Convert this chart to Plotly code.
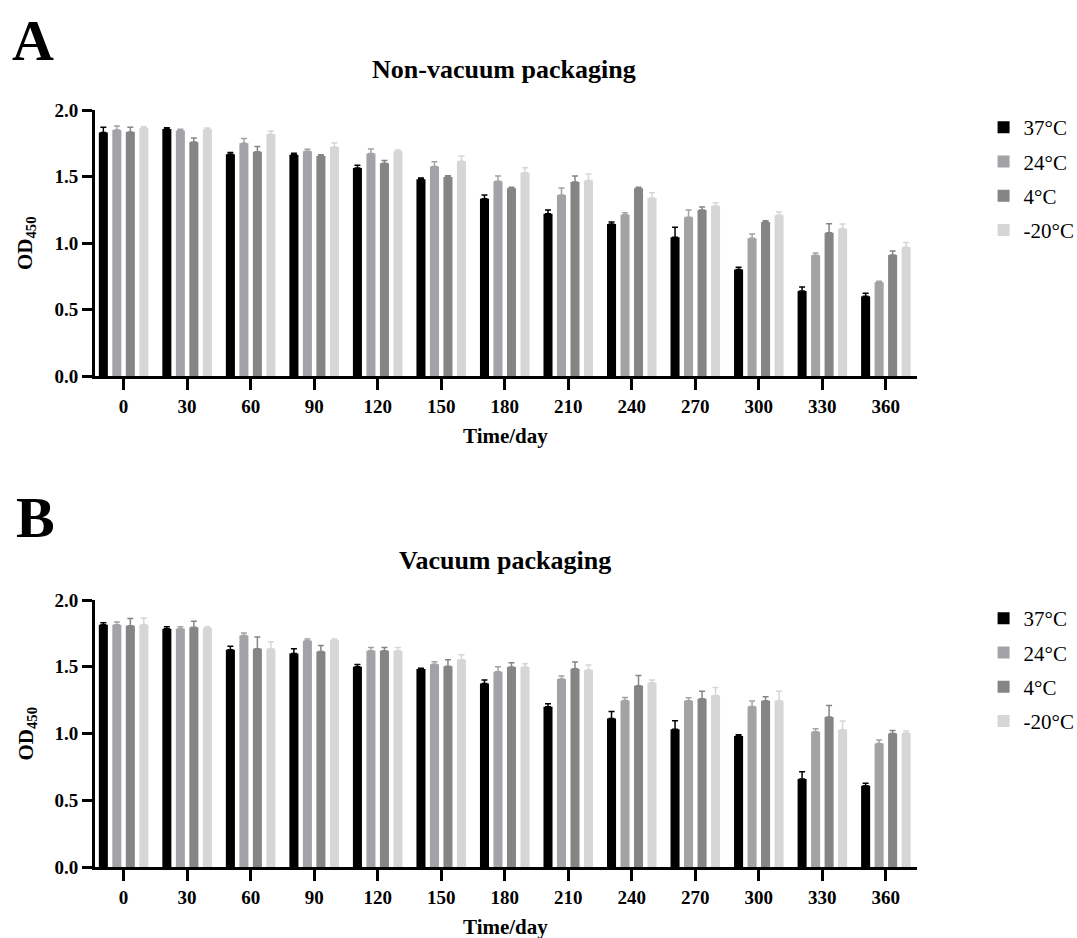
import plotly.graph_objects as go

days = ["0", "30", "60", "90", "120", "150", "180", "210", "240", "270", "300", "330", "360"]
series_names = ["37°C", "24°C", "4°C", "-20°C"]
colors = ["#000000", "#a3a3a7", "#858585", "#d6d6d6"]

# Panel A: Non-vacuum packaging (mean, error)
a_37 = [1.83, 1.857, 1.667, 1.664, 1.564, 1.479, 1.333, 1.22, 1.143, 1.043, 0.80, 0.639, 0.599]
a_37_err = [0.04, 0.01, 0.013, 0.01, 0.02, 0.01, 0.028, 0.028, 0.015, 0.075, 0.017, 0.03, 0.023]
a_24 = [1.85, 1.845, 1.75, 1.69, 1.672, 1.576, 1.464, 1.361, 1.213, 1.193, 1.035, 0.907, 0.704]
a_24_err = [0.03, 0.01, 0.035, 0.015, 0.035, 0.035, 0.04, 0.053, 0.015, 0.055, 0.033, 0.018, 0.008]
a_4 = [1.835, 1.76, 1.686, 1.654, 1.60, 1.496, 1.411, 1.459, 1.411, 1.248, 1.158, 1.077, 0.91]
a_4_err = [0.035, 0.03, 0.04, 0.01, 0.02, 0.01, 0.008, 0.045, 0.008, 0.023, 0.01, 0.068, 0.03]
a_m20 = [1.865, 1.855, 1.817, 1.722, 1.69, 1.614, 1.529, 1.469, 1.338, 1.278, 1.208, 1.108, 0.968]
a_m20_err = [0.01, 0.01, 0.025, 0.03, 0.01, 0.04, 0.037, 0.05, 0.04, 0.025, 0.025, 0.035, 0.035]

# Panel B: Vacuum packaging (mean, error)
b_37 = [1.815, 1.785, 1.628, 1.60, 1.50, 1.483, 1.375, 1.20, 1.113, 1.031, 0.981, 0.659, 0.609]
b_37_err = [0.015, 0.015, 0.025, 0.035, 0.017, 0.005, 0.025, 0.023, 0.052, 0.065, 0.01, 0.055, 0.018]
b_24 = [1.815, 1.785, 1.735, 1.695, 1.62, 1.518, 1.463, 1.408, 1.248, 1.246, 1.203, 1.013, 0.926]
b_24_err = [0.02, 0.015, 0.017, 0.012, 0.025, 0.02, 0.037, 0.022, 0.022, 0.022, 0.04, 0.022, 0.025]
b_4 = [1.807, 1.795, 1.635, 1.615, 1.62, 1.503, 1.498, 1.485, 1.358, 1.261, 1.246, 1.124, 1.0]
b_4_err = [0.055, 0.045, 0.088, 0.045, 0.025, 0.05, 0.032, 0.05, 0.077, 0.055, 0.03, 0.085, 0.023]
b_m20 = [1.815, 1.79, 1.635, 1.70, 1.62, 1.553, 1.498, 1.475, 1.38, 1.285, 1.246, 1.028, 1.003]
b_m20_err = [0.05, 0.01, 0.052, 0.008, 0.025, 0.037, 0.025, 0.038, 0.02, 0.06, 0.07, 0.065, 0.015]

y_ticks = [0.0, 0.5, 1.0, 1.5, 2.0]

panel_a = [(a_37, a_37_err), (a_24, a_24_err), (a_4, a_4_err), (a_m20, a_m20_err)]
panel_b = [(b_37, b_37_err), (b_24, b_24_err), (b_4, b_4_err), (b_m20, b_m20_err)]

FONT = "Liberation Serif, Times New Roman, serif"

fig = go.Figure()

for panel, xa, ya, leg in [(panel_a, "x", "y", "legend"), (panel_b, "x2", "y2", "legend2")]:
    for i, (vals, errs) in enumerate(panel):
        fig.add_trace(go.Bar(
            x=days, y=vals, name=series_names[i],
            marker=dict(color=colors[i], line=dict(width=0)),
            error_y=dict(type="data", array=errs, arrayminus=[0] * len(errs), symmetric=False,
                         color=colors[i], thickness=1.5, width=3),
            xaxis=xa, yaxis=ya, legend=leg, legendgroup=leg + str(i),
        ))

axis_common_x = dict(
    type="category", range=[-0.45, 12.49], showline=True, linecolor="black", linewidth=3,
    ticks="outside", ticklen=11, tickwidth=3, tickcolor="black",
    tickfont=dict(family=FONT, size=19, color="black", weight="bold"),
    showgrid=False, zeroline=False, fixedrange=True,
)
axis_common_y = dict(
    range=[0, 2.0], tickvals=y_ticks, tickformat=".1f", showline=True, linecolor="black",
    linewidth=3, ticks="outside", ticklen=10, tickwidth=3, tickcolor="black",
    tickfont=dict(family=FONT, size=19, color="black", weight="bold"),
    showgrid=False, zeroline=False, fixedrange=True,
)

top_a = 1.0
bot_a = (867 - 376) / 757
top_b = (867 - 600) / 757

fig.update_layout(
    width=1077, height=938,
    margin=dict(l=95, r=160, t=110, b=71, autoexpand=False),
    paper_bgcolor="white", plot_bgcolor="white",
    barmode="group", bargap=0.15, bargroupgap=0.33,
    font=dict(family=FONT, color="black"),
    xaxis=dict(axis_common_x, domain=[0, 1], anchor="y"),
    yaxis=dict(axis_common_y, domain=[bot_a, top_a], anchor="x"),
    xaxis2=dict(axis_common_x, domain=[0, 1], anchor="y2"),
    yaxis2=dict(axis_common_y, domain=[0, top_b], anchor="x2"),
    legend=dict(x=1.081, y=(867 - 107) / 757, xanchor="left", yanchor="top",
                font=dict(family=FONT, size=21, color="black"), tracegroupgap=4,
                bgcolor="rgba(0,0,0,0)"),
    legend2=dict(x=1.081, y=(867 - 598) / 757, xanchor="left", yanchor="top",
                 font=dict(family=FONT, size=21, color="black"), tracegroupgap=4,
                 bgcolor="rgba(0,0,0,0)"),
    showlegend=True,
)

def px_x(x):
    return (x - 95) / 822

def px_y(y):
    return (867 - y) / 757

annotations = [
    dict(text="A", x=px_x(33), y=px_y(40), font=dict(size=58, weight="bold")),
    dict(text="Non-vacuum packaging", x=px_x(504), y=px_y(70), font=dict(size=26, weight="bold")),
    dict(text="OD<sub>450</sub>", x=px_x(26), y=px_y(243), textangle=-90, font=dict(size=21, weight="bold")),
    dict(text="Time/day", x=px_x(505), y=px_y(436), font=dict(size=21, weight="bold")),
    dict(text="B", x=px_x(35), y=px_y(517), font=dict(size=58, weight="bold")),
    dict(text="Vacuum packaging", x=px_x(505), y=px_y(560), font=dict(size=26, weight="bold")),
    dict(text="OD<sub>450</sub>", x=px_x(26), y=px_y(733.5), textangle=-90, font=dict(size=21, weight="bold")),
    dict(text="Time/day", x=px_x(505), y=px_y(927), font=dict(size=21, weight="bold")),
]
for a in annotations:
    a.update(xref="paper", yref="paper", showarrow=False, xanchor="center", yanchor="middle")
    a["font"].update(family=FONT, color="black")
fig.update_layout(annotations=annotations)

fig.write_html("out.html")
